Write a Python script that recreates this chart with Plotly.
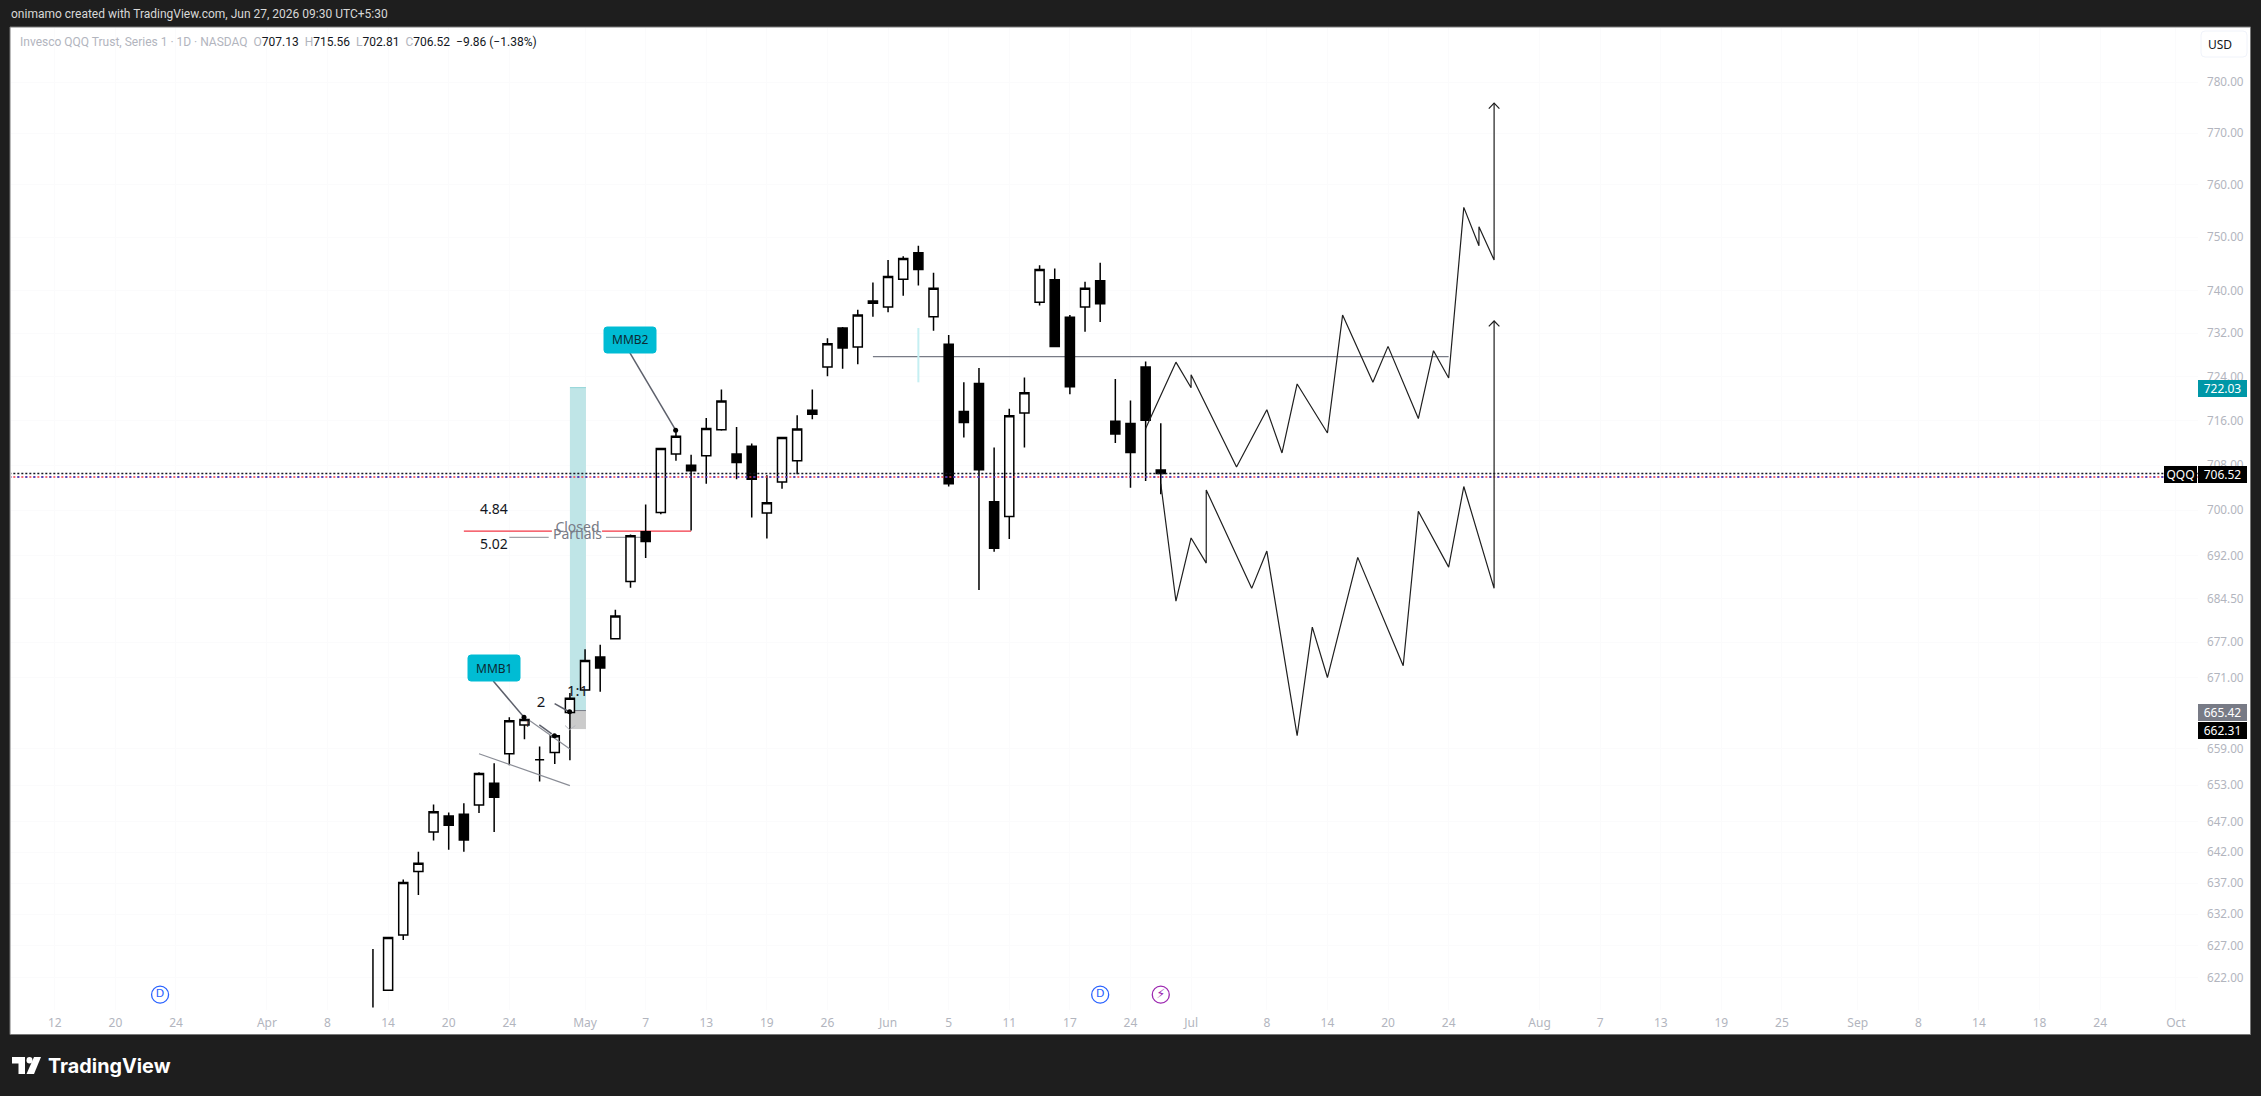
import numpy as np
import plotly.graph_objects as go

# ---------- data (prices) ----------
bars    = list(range(1, 53))
opens   = [620.0,628.7,638.9,645.3,647.9,648.2,649.7,653.3,658.2,663.0,657.2,658.4,665.1,668.9,674.5,677.6,687.5,696.2,699.6,710.0,708.0,709.7,714.4,710.0,711.4,699.5,705.0,708.8,717.9,725.8,733.0,729.5,737.6,736.9,742.1,747.1,735.1,730.0,717.7,722.8,701.5,698.9,717.4,737.8,742.0,735.0,736.9,741.8,715.9,715.5,725.8,707.13]
highs   = [628.3,637.6,642.1,649.8,648.5,650.0,655.1,656.6,664.3,664.6,659.4,661.4,668.4,675.8,676.6,682.6,695.7,701.0,711.0,714.3,709.9,716.5,721.7,714.9,711.9,706.2,713.0,717.0,721.7,731.1,733.2,736.4,741.5,745.7,746.4,748.4,743.3,731.7,723.0,725.6,711.2,718.2,723.9,744.7,744.1,735.4,741.6,745.2,723.6,719.7,726.8,715.56]
lows    = [620.0,627.9,635.1,643.9,642.4,642.1,648.4,645.3,656.3,660.6,653.6,656.5,657.1,668.9,668.6,677.5,686.4,691.6,699.3,708.8,696.4,704.7,714.2,705.5,698.7,695.0,703.8,706.4,716.3,724.1,725.5,726.3,735.1,735.9,739.0,740.9,732.5,704.2,713.0,686.0,692.7,694.9,711.2,737.2,729.6,720.8,732.3,734.1,712.0,704.0,705.2,702.81]
closes  = [628.3,637.1,640.2,648.6,646.4,644.0,654.9,651.0,663.7,663.9,657.2,661.2,667.5,673.9,672.6,681.5,695.5,694.5,711.0,713.2,707.0,714.6,719.6,708.5,705.5,701.3,713.0,714.5,717.2,730.1,729.3,735.4,738.0,742.6,746.0,743.9,740.4,704.7,715.7,707.2,693.3,716.9,721.1,743.9,729.6,722.2,740.4,737.5,713.6,710.3,716.1,706.52]
first_wick_bar = [0, 0]
first_wick = [626.5, 617.3]

path_up_x = [51,53,54,54,57,59,60,61,63,64,66,67,69,70,71,72,73,73,74,74]
path_up_y = [714.6,726.7,722.0,724.4,707.7,718.0,710.2,722.7,713.8,735.4,723.0,729.6,716.4,728.8,723.8,755.7,748.4,752.0,745.7,775.9]
path_dn_x = [52,53,54,55,55,58,59,61,62,63,65,68,69,71,72,74,74]
path_dn_y = [704.7,684.1,695.1,690.7,703.6,686.3,692.8,661.2,679.6,671.0,691.7,673.0,699.8,690.0,704.2,686.3,734.3]

y_tick_labels = [780,770,760,750,740,732,724,716,708,700,692,684.5,677,671,659,653,647,642,637,632,627,622]
x_tick_bars = [-21,-17,-13,-7,-3,1,5,9,14,18,22,26,30,34,38,42,46,50,54,59,63,67,71,77,81,85,89,93,98,102,106,110,114,119]
x_tick_text = ["12","20","24","Apr","8","14","20","24","May","7","13","19","26","Jun","5","11","17","24","Jul","8","14","20","24","Aug","7","13","19","25","Sep","8","14","18","24","Oct"]

last_price = 706.52
alert_price = 705.9
box_top, box_mid, box_bot = 722.03, 665.42, 662.31
closed_price, partials_price, level_price = 696.3, 695.2, 727.7

# ---------- layout constants ----------
W, H = 2261, 1096
L, R, T, B = 11, 2198, 28, 1010
FONT = "Noto Sans"
def xp(x): return (x - L) / (R - L)
def yp(y): return 1 - (y - T) / (B - T)

fig = go.Figure()

fig.add_trace(go.Candlestick(
    x=bars, open=opens, high=highs, low=lows, close=closes,
    whiskerwidth=0,
    increasing=dict(line=dict(color="#000000", width=1.5), fillcolor="#ffffff"),
    decreasing=dict(line=dict(color="#000000", width=1.5), fillcolor="#000000"),
    hoverinfo="skip", showlegend=False))
def line(x, y, color="#000000", width=1.5, dash=None):
    fig.add_trace(go.Scatter(x=x, y=y, mode="lines", hoverinfo="skip", showlegend=False,
                             line=dict(color=color, width=width, dash=dash)))
line(first_wick_bar, first_wick)

# price lines
xs = [-24, 121]
line(xs, [last_price]*2, "#131722", 1.5, "2px,2px")
line(xs, [alert_price]*2, "#f23645", 1.5, "2px,2px")
line(xs, [alert_price]*2, "#1c39d8", 1.5, "2px,6px")

# projected paths
line(path_up_x, path_up_y, "#1f1f1f", 1.2)
line(path_dn_x, path_dn_y, "#1f1f1f", 1.2)
line([73.65, 74, 74.35], [774.8, 775.9, 774.8], "#1f1f1f", 1.2)
line([73.65, 74, 74.35], [733.3, 734.3, 733.3], "#1f1f1f", 1.2)

# callouts / pattern lines
line([7, 13], [658.2, 652.9], "#8a8d96", 1.2)
line([10.36, 13], [663.7, 659.0], "#8a8d96", 1.2)
line([11.99, 12.89], [666.6, 665.3], "#5d606b", 1.5)
line([10.98, 11.8], [663.0, 661.5], "#5d606b", 1.5)
line([12.68, 12.98, 13.36], [662.9, 662.2, 662.9], "#b4b6bd", 1.0)
line([7.94, 9.97], [670.4, 664.3], "#5d606b", 1.5)
line([16.96, 19.98], [728.4, 714.3], "#5d606b", 1.5)
fig.add_trace(go.Scatter(x=[9.97, 19.98, 11.98, 12.98], y=[664.3, 714.3, 661.2, 665.2], mode="markers",
                         marker=dict(color="#000000", size=5), hoverinfo="skip", showlegend=False))

def text(x, y, s, size, color="#131722"):
    fig.add_trace(go.Scatter(x=[x], y=[y], mode="text", text=[s], textposition="middle center",
                             textfont=dict(family=FONT, size=size, color=color),
                             hoverinfo="skip", showlegend=False))
text(7.98, 699.9, "4.84", 14)
text(7.98, 693.7, "5.02", 14)
text(13.5, 696.7, "Closed", 14, "#787b86")
text(13.5, 695.5, "Partials", 14, "#787b86")
text(11.1, 666.6, "2", 15)
text(13.5, 668.5, "1:1", 15)
text(10.2, 663.0, "1", 10)

# event icons
fig.add_trace(go.Scatter(x=[-14.05, 48, 52], y=[619.3]*3, mode="markers+text",
                         text=["D", "D", "⚡"], textposition="middle center",
                         textfont=dict(family="DejaVu Sans", size=[11, 11, 13], color=["#2962ff", "#2962ff", "#9c27b0"]),
                         marker=dict(size=17, color="#ffffff", line=dict(width=1.3, color=["#2962ff", "#2962ff", "#9c27b0"])),
                         hoverinfo="skip", showlegend=False))

shapes = [
    # panel
    dict(type="rect", xref="paper", yref="paper", x0=xp(10), x1=xp(2250.5), y0=yp(27), y1=yp(1034.5),
         fillcolor="#ffffff", line=dict(color="#787878", width=1), layer="below"),
    # position box
    dict(type="rect", xref="x", yref="y", x0=13.0, x1=14.06, y0=box_mid, y1=box_top,
         fillcolor="#bfe5e7", line=dict(width=0), layer="between"),
    dict(type="rect", xref="x", yref="y", x0=13.0, x1=14.06, y0=box_bot, y1=box_mid,
         fillcolor="#cbcbcb", line=dict(width=0), layer="between"),
    dict(type="line", xref="x", yref="y", x0=13.0, x1=14.06, y0=box_top, y1=box_top,
         line=dict(color="#8fd3d6", width=1), layer="between"),
    dict(type="line", xref="x", yref="y", x0=13.0, x1=14.06, y0=box_mid, y1=box_mid,
         line=dict(color="#787b86", width=1), layer="between"),
    # levels
    dict(type="line", xref="x", yref="y", x0=33, x1=71, y0=level_price, y1=level_price,
         line=dict(color="#787b86", width=1.2), layer="between"),
    dict(type="line", xref="x", yref="y", x0=36, x1=36, y0=733.0, y1=723.0,
         line=dict(color="#c5eff2", width=2), layer="between"),
    dict(type="line", xref="x", yref="y", x0=6, x1=11.81, y0=closed_price, y1=closed_price,
         line=dict(color="#f23645", width=1.2), layer="between"),
    dict(type="line", xref="x", yref="y", x0=15.12, x1=21, y0=closed_price, y1=closed_price,
         line=dict(color="#f23645", width=1.2), layer="between"),
    dict(type="line", xref="x", yref="y", x0=9, x1=11.6, y0=partials_price, y1=partials_price,
         line=dict(color="#a0a2a8", width=1.2), layer="between"),
    dict(type="line", xref="x", yref="y", x0=15.38, x1=18, y0=partials_price, y1=partials_price,
         line=dict(color="#a0a2a8", width=1.2), layer="between"),
]

def rounded(x0, y0, x1, y1, r, fill, border=None):
    X0, X1 = xp(x0), xp(x1)
    Y0, Y1 = yp(y0), yp(y1)
    rx, ry = r/(R-L), r/(B-T)
    p = (f"M {X0+rx} {Y0} L {X1-rx} {Y0} Q {X1} {Y0} {X1} {Y0-ry} L {X1} {Y1+ry} Q {X1} {Y1} {X1-rx} {Y1} "
         f"L {X0+rx} {Y1} Q {X0} {Y1} {X0} {Y1+ry} L {X0} {Y0-ry} Q {X0} {Y0} {X0+rx} {Y0} Z")
    return dict(type="path", xref="paper", yref="paper", path=p, fillcolor=fill,
                line=dict(color=border or fill, width=1), layer="above")
shapes += [rounded(468, 655, 520, 681, 3, "#00bcd4"), rounded(604, 327, 656, 353, 3, "#00bcd4"),
           rounded(2201, 31, 2247, 57, 4, "#ffffff", "#f0f3fa")]

# TradingView logo
shapes += [
    dict(type="path", xref="paper", yref="paper", fillcolor="#ffffff", line=dict(width=0),
         path=f"M {xp(12)} {yp(1057)} L {xp(25)} {yp(1057)} L {xp(25)} {yp(1074)} L {xp(18.5)} {yp(1074)} L {xp(18.5)} {yp(1063.5)} L {xp(12)} {yp(1063.5)} Z"),
    dict(type="circle", xref="paper", yref="paper", fillcolor="#ffffff", line=dict(width=0),
         x0=xp(26.5), x1=xp(32.5), y0=yp(1063.5), y1=yp(1057)),
    dict(type="path", xref="paper", yref="paper", fillcolor="#ffffff", line=dict(width=0),
         path=f"M {xp(34)} {yp(1057)} L {xp(41)} {yp(1057)} L {xp(34)} {yp(1074)} L {xp(26.5)} {yp(1074)} Z"),
]

ann = []
def label(x0, x1, y0, y1, s, bg, color="#ffffff", size=12, bold=False):
    ann.append(dict(xref="paper", yref="paper", x=xp(x0), y=yp(y0), xanchor="left", yanchor="top",
                    width=x1-x0, height=y1-y0, bgcolor=bg, borderpad=0, borderwidth=0, showarrow=False,
                    align="center", valign="middle",
                    text=f"<b>{s}</b>" if bold else s,
                    font=dict(family=FONT, size=size, color=color)))
label(2198, 2247, 380, 397, "722.03", "#0097a7")
label(2164, 2197, 466, 483, "QQQ", "#000000")
label(2198, 2247, 466, 483, "706.52", "#000000")
label(2198, 2247, 704, 720.5, "665.42", "#787b86")
label(2198, 2247, 722, 738.5, "662.31", "#000000")

def free(x, y, s, size, color, anchor="left", family=FONT):
    ann.append(dict(xref="paper", yref="paper", x=xp(x), y=yp(y), xanchor=anchor, yanchor="middle",
                    showarrow=False, text=s, font=dict(family=family, size=size, color=color)))
free(494, 668, "MMB1", 12, "#0c2a33", "center")
free(630, 340, "MMB2", 12, "#0c2a33", "center")
free(2220, 44, "USD", 12, "#131722", "center")
free(9, 14, "onimamo created with TradingView.com, Jun 27, 2026 09:30 UTC+5:30", 12, "#d8d8d8", family="Roboto")
g = '<span style="color:#b2b5be">%s</span>'
free(18, 42, (g % "Invesco QQQ Trust, Series 1 · 1D · NASDAQ") + " &nbsp;" + (g % "O") + "707.13 &nbsp;" + (g % "H") + "715.56 &nbsp;"
     + (g % "L") + "702.81 &nbsp;" + (g % "C") + "706.52 &nbsp;−9.86 (−1.38%)", 12, "#131722", family="Roboto")
free(46, 1066, "<b>TradingView</b>", 19.8, "#ffffff", family="Inter")

fig.update_layout(
    width=W, height=H,
    margin=dict(l=L, r=W-R, t=T, b=H-B, pad=0, autoexpand=False),
    paper_bgcolor="#1e1e1e", plot_bgcolor="#ffffff",
    showlegend=False, shapes=shapes, annotations=ann,
    boxgap=0.4, boxgroupgap=0,
    xaxis=dict(range=[-23.89, 120.46], rangeslider=dict(visible=False), tickmode="array",
               tickvals=x_tick_bars, ticktext=x_tick_text, showgrid=True, gridcolor="#fbfbfc", gridwidth=1,
               zeroline=False, showline=False, ticks="", ticklabelstandoff=4,
               tickfont=dict(family=FONT, size=12, color="#b2b5be")),
    yaxis=dict(type="log", range=[np.log10(616.9), np.log10(790.76)], side="right", tickmode="array",
               tickvals=y_tick_labels, ticktext=[f"{v:.2f}" for v in y_tick_labels],
               showgrid=True, gridcolor="#fbfbfc", gridwidth=1, zeroline=False, showline=False,
               ticks="", ticklabelstandoff=8, tickfont=dict(family=FONT, size=11.7, color="#b2b5be")),
)

fig.write_html("out.html", config=dict(displayModeBar=False),
               post_script="document.body.style.margin='0';document.body.style.background='#1e1e1e';")
